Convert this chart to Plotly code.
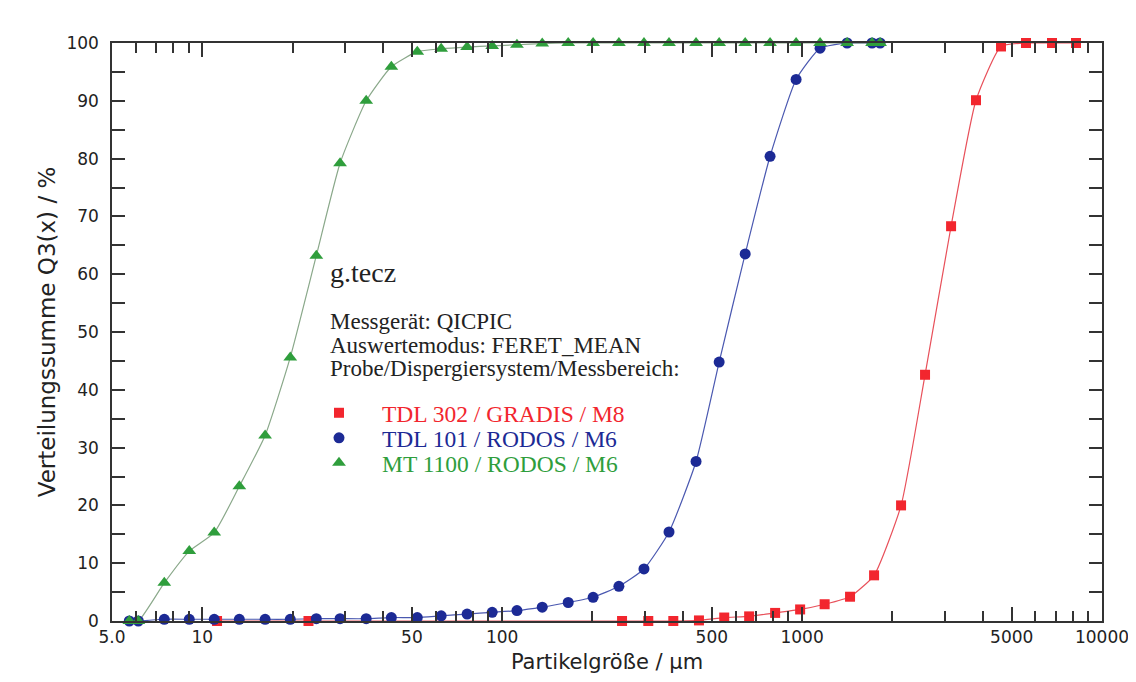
import plotly.graph_objects as go

# ---- data ----
x_tdl101 = [5.71, 6.12, 7.47, 9.05, 10.96, 13.29, 16.2, 19.65, 24.0, 28.8, 35.2, 42.7, 52.1,
            62.6, 76.4, 92.6, 112, 136, 166, 201, 245, 297, 360, 443, 529, 646, 782, 955,
            1148, 1413, 1711, 1820]
y_tdl101 = [0, 0, 0.3, 0.3, 0.3, 0.3, 0.3, 0.3, 0.4, 0.4, 0.4, 0.6, 0.6,
            0.9, 1.2, 1.5, 1.8, 2.4, 3.2, 4.1, 6.0, 9.0, 15.4, 27.6, 44.8, 63.5, 80.4, 93.7,
            99.1, 100, 100, 100]

x_mt1100 = x_tdl101
y_mt1100 = [0, 0, 6.6, 12.1, 15.3, 23.3, 32.1, 45.6, 63.2, 79.2, 90.0, 95.9, 98.5,
            99.0, 99.3, 99.5, 99.7, 99.9, 100, 100, 100, 100, 100, 100, 100, 100, 100, 100,
            100, 100, 100, 100]

x_tdl302 = [11.2, 22.6, 251, 307, 372, 453, 550, 666, 813, 985, 1189, 1445, 1738, 2138,
            2570, 3139, 3801, 4606, 5580, 6812, 8190]
y_tdl302 = [0, 0, 0, 0, 0, 0.1, 0.6, 0.8, 1.4, 2.0, 2.9, 4.2, 7.9, 20.0,
            42.6, 68.3, 90.1, 99.4, 100, 100, 100]

x_tickvals = [5, 10, 50, 100, 500, 1000, 5000, 10000]
x_ticktext = ["5.0", "10", "50", "100", "500", "1000", "5000", "10000"]
x_minor = [6, 7, 8, 9, 20, 30, 40, 60, 70, 80, 90, 200, 300, 400, 600, 700, 800, 900,
           2000, 3000, 4000, 6000, 7000, 8000, 9000]
y_tickvals = [0, 10, 20, 30, 40, 50, 60, 70, 80, 90, 100]

names = ["TDL 302 / GRADIS / M8", "TDL 101 / RODOS / M6", "MT 1100 / RODOS / M6"]

RED = "#f2262e"
BLUE = "#1c2a95"
GREEN = "#2f9e3c"

# page body has an 8px margin; figure is sized so the plot area lands at
# x 112..1102, y 43..621 of the window
OFF = 8
FIG_W, FIG_H = 1136 - OFF, 682 - OFF
L, R, T, B = 112 - OFF, 1102 - OFF, 43 - OFF, 621 - OFF
W, H = R - L, B - T

fig = go.Figure()

series = [
    (x_tdl302, y_tdl302, names[0], RED, "#e8505a", "square", 10),
    (x_tdl101, y_tdl101, names[1], BLUE, "#4a58b0", "circle", 11),
    (x_mt1100, y_mt1100, names[2], GREEN, "#8aa88a", "triangle-up", 12),
]

for xs, ys, nm, mc, lc, sym, sz in series:
    fig.add_trace(go.Scatter(
        x=xs, y=ys, mode="lines", showlegend=False,
        line=dict(color=lc, width=1.2, shape="spline", smoothing=0.5),
        cliponaxis=True, hoverinfo="skip"))

legend_keys = ["legend", "legend2", "legend3"]
for i, (xs, ys, nm, mc, lc, sym, sz) in enumerate(series):
    fig.add_trace(go.Scatter(
        x=xs, y=ys, mode="markers",
        name=f"<span style='color:{mc}'>{nm}</span>",
        legend=legend_keys[i],
        marker=dict(color=mc, symbol=sym, size=sz, line=dict(width=0)),
        cliponaxis=False))

serif = "Liberation Serif, Times New Roman, serif"
sans = "DejaVu Sans, Verdana, sans-serif"
axis_col = "#333333"
txt_col = "#222222"

legend_rows_px = [413, 438, 463]
legend_x_px = 296
legend_common = dict(
    xanchor="left", yanchor="middle", bgcolor="rgba(0,0,0,0)",
    font=dict(family=serif, size=23.5), itemwidth=76,
)

fig.update_layout(
    width=FIG_W, height=FIG_H,
    margin=dict(l=L, r=FIG_W - R, t=T, b=FIG_H - B),
    paper_bgcolor="white", plot_bgcolor="white",
    font=dict(family=sans, color=txt_col),
    xaxis=dict(
        type="log", range=[0.69897, 4.0], automargin=False,
        tickvals=x_tickvals, ticktext=x_ticktext,
        ticks="inside", ticklen=14, tickwidth=1.5, tickcolor=axis_col,
        minor=dict(tickvals=x_minor, ticks="inside", ticklen=10, tickwidth=1.5,
                   tickcolor=axis_col, showgrid=False),
        showline=True, linecolor=axis_col, linewidth=1.5, mirror="ticks",
        showgrid=False, zeroline=False,
        tickfont=dict(size=17, color=txt_col),
        title=dict(text="Partikelgröße / µm", font=dict(size=21, color=txt_col), standoff=8),
    ),
    yaxis=dict(
        range=[0, 100], automargin=False,
        tickvals=y_tickvals,
        ticks="inside", ticklen=13, tickwidth=1.5, tickcolor=axis_col,
        minor=dict(dtick=5, ticks="inside", ticklen=13, tickwidth=1.5,
                   tickcolor=axis_col, showgrid=False),
        showline=True, linecolor=axis_col, linewidth=1.5, mirror="ticks",
        showgrid=False, zeroline=False, ticklabelstandoff=8,
        tickfont=dict(size=17, color=txt_col),
        title=dict(text="Verteilungssumme Q3(x) / %", font=dict(size=23, color=txt_col), standoff=4),
    ),
    legend=dict(x=(legend_x_px - OFF - L) / W, y=(B - (legend_rows_px[0] - OFF)) / H, **legend_common),
    legend2=dict(x=(legend_x_px - OFF - L) / W, y=(B - (legend_rows_px[1] - OFF)) / H, **legend_common),
    legend3=dict(x=(legend_x_px - OFF - L) / W, y=(B - (legend_rows_px[2] - OFF)) / H, **legend_common),
    showlegend=True,
)

texts = [
    ("g.tecz", 28, 272),
    ("Messgerät: QICPIC", 23, 321),
    ("Auswertemodus: FERET_MEAN", 23, 345),
    ("Probe/Dispergiersystem/Messbereich:", 23, 368),
]
for t, s, ypx in texts:
    fig.add_annotation(
        text=t, xref="paper", yref="paper",
        x=(328 - OFF - L) / W, y=(B - (ypx - OFF)) / H,
        xanchor="left", yanchor="middle", showarrow=False,
        font=dict(family=serif, size=s, color=txt_col))

fig.write_html("out.html")
